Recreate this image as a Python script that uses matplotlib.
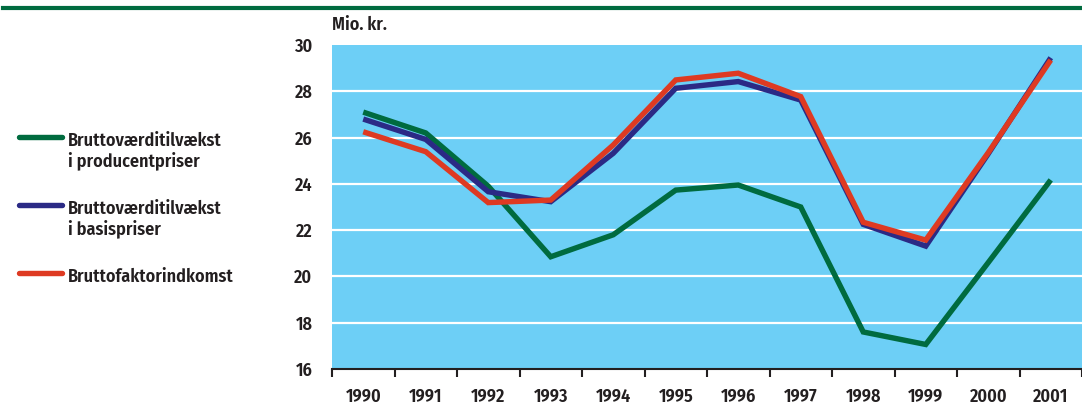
import numpy as np
import matplotlib.pyplot as plt
from matplotlib.lines import Line2D

# data (Mio. kr.)
years = ["1990", "1991", "1992", "1993", "1994", "1995",
         "1996", "1997", "1998", "1999", "2000", "2001"]
producentpriser = [27.1, 26.2, 23.9, 20.85, 21.8, 23.73,
                   23.95, 23.0, 17.6, 17.06, 20.6, 24.17]
basispriser = [26.8, 25.92, 23.66, 23.23, 25.32, 28.13,
               28.42, 27.62, 22.25, 21.31, 25.3, 29.45]
faktorindkomst = [26.25, 25.39, 23.19, 23.3, 25.68, 28.49,
                  28.78, 27.77, 22.34, 21.57, 25.35, 29.35]

series_labels = ["Bruttoværditilvækst\ni producentpriser",
                 "Bruttoværditilvækst\ni basispriser",
                 "Bruttofaktorindkomst"]
colors = ["#006b3f", "#2b2a85", "#de3a22"]
yticks = [16, 18, 20, 22, 24, 26, 28, 30]

plt.rcParams["font.family"] = ["Fira Sans Condensed", "Asap Condensed", "DejaVu Sans"]
text_color = "#231f20"
fs = 13
fw = 600

fig = plt.figure(figsize=(10.82, 4.12), dpi=100)
ax = fig.add_axes([332 / 1082, 1 - 369 / 412, 750 / 1082, 324 / 412])
ax.set_facecolor("#6dcff6")

x = np.arange(len(years))
for vals, col in zip([producentpriser, basispriser, faktorindkomst], colors):
    ax.plot(x, vals, color=col, lw=3.9, solid_joinstyle="miter",
            solid_capstyle="butt", zorder=3)

ax.set_xlim(-0.5, len(years) - 0.5)
ax.set_ylim(16, 30)
ax.set_yticks(yticks)
ax.set_yticklabels([str(v) for v in yticks], fontsize=fs,
                   fontweight=fw, color=text_color)
ax.tick_params(axis="y", length=0, pad=14)
for v in yticks[1:-1]:
    ax.axhline(v, color="white", lw=1.6, zorder=1)

ax.set_xticks(x)
ax.set_xticklabels(years, fontsize=fs, fontweight=fw, color=text_color)
ax.set_xticks(np.arange(-0.5, len(years) - 0.4, 1), minor=True)
ax.tick_params(axis="x", which="major", length=0, pad=14)
ax.tick_params(axis="x", which="minor", length=6, width=1.5,
               color=text_color, direction="out")

for s in ["top", "right", "left"]:
    ax.spines[s].set_visible(False)
ax.spines["bottom"].set_color(text_color)
ax.spines["bottom"].set_linewidth(1.5)

fig.text(332 / 1082, 1 - 25 / 412, "Mio. kr.", fontsize=fs,
         fontweight=fw, color=text_color, va="center", ha="left")

# green rule along the top
fig.add_artist(Line2D([3 / 1082, 1.0], [1 - 8 / 412] * 2, color="#006b3f",
                      lw=3, transform=fig.transFigure))

# legend on the left, drawn by hand
legend_y = [137, 205, 273]
for lab, col, ly in zip(series_labels, colors, legend_y):
    fig.add_artist(Line2D([19 / 1082, 62 / 1082], [1 - ly / 412] * 2,
                          color=col, lw=3.9, solid_capstyle="round",
                          transform=fig.transFigure))
    fig.text(68 / 1082, 1 - (ly - 5) / 412, lab, fontsize=fs,
             fontweight=fw, color=text_color, va="top", ha="left",
             linespacing=1.2)

fig.savefig("out.png", dpi=100)
